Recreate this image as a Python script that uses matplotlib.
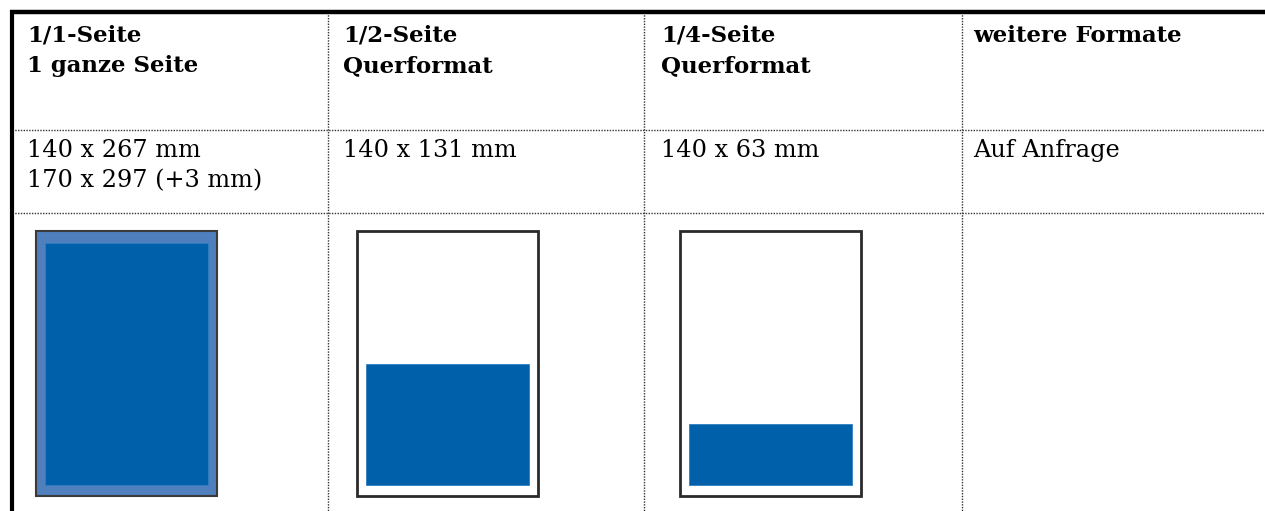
import matplotlib.pyplot as plt
import matplotlib.patches as patches

# table content
headers = [["1/1-Seite", "1 ganze Seite"],
           ["1/2-Seite", "Querformat"],
           ["1/4-Seite", "Querformat"],
           ["weitere Formate"]]
sizes = [["140 x 267 mm", "170 x 297 (+3 mm)"],
         ["140 x 131 mm"],
         ["140 x 63 mm"],
         ["Auf Anfrage"]]
# share of the page covered by the ad (bottom aligned)
page_share = [1.0, 0.5, 0.25]

W, H = 1265, 511
col_x = [12, 328, 644, 962, W]
row_y = [12, 130, 213, H]
text_x = [27, 343, 661, 973]

fig = plt.figure(figsize=(W / 100, H / 100), dpi=100)
ax = fig.add_axes([0, 0, 1, 1])
ax.set_xlim(0, W)
ax.set_ylim(H, 0)
ax.axis("off")

dot = dict(color="#333333", lw=1.0, ls=(0, (1, 1)))
# dotted grid
for x in col_x[1:-1]:
    ax.plot([x, x], [row_y[0], H], **dot)
for y in row_y[1:3]:
    ax.plot([col_x[0], W], [y, y], **dot)
# thick outer lines top and left
ax.plot([10, W], [12, 12], color="black", lw=3.2, solid_capstyle="butt")
ax.plot([11.5, 11.5], [10, H], color="black", lw=3.0, solid_capstyle="butt")

font = "DejaVu Serif"
for i, lines in enumerate(headers):
    for j, t in enumerate(lines):
        ax.text(text_x[i], 42 + 30 * j, t, fontsize=16.5, fontweight="bold",
                family=font, va="baseline", ha="left")
for i, lines in enumerate(sizes):
    for j, t in enumerate(lines):
        ax.text(text_x[i], 157 + 30 * j, t, fontsize=17.3, family=font,
                va="baseline", ha="left")

# page illustrations
pw, ph = 181, 265
px0 = [36, 357, 680]
py0 = 231
for i, share in enumerate(page_share):
    x0 = px0[i]
    if i == 0:
        ax.add_patch(patches.Rectangle((x0, py0), pw, ph, facecolor="#4F7FBC",
                                       edgecolor="#3a3a3a", lw=1.5))
    else:
        ax.add_patch(patches.Rectangle((x0, py0), pw, ph, facecolor="white",
                                       edgecolor="#2a2a2a", lw=2.0))
    inner_h = 242 * share
    ax.add_patch(patches.Rectangle((x0 + 9, py0 + 254 - inner_h), pw - 18, inner_h,
                                   facecolor="#0060A9", edgecolor="#2f7fc0", lw=0.6))

fig.savefig("out.png", dpi=100)
